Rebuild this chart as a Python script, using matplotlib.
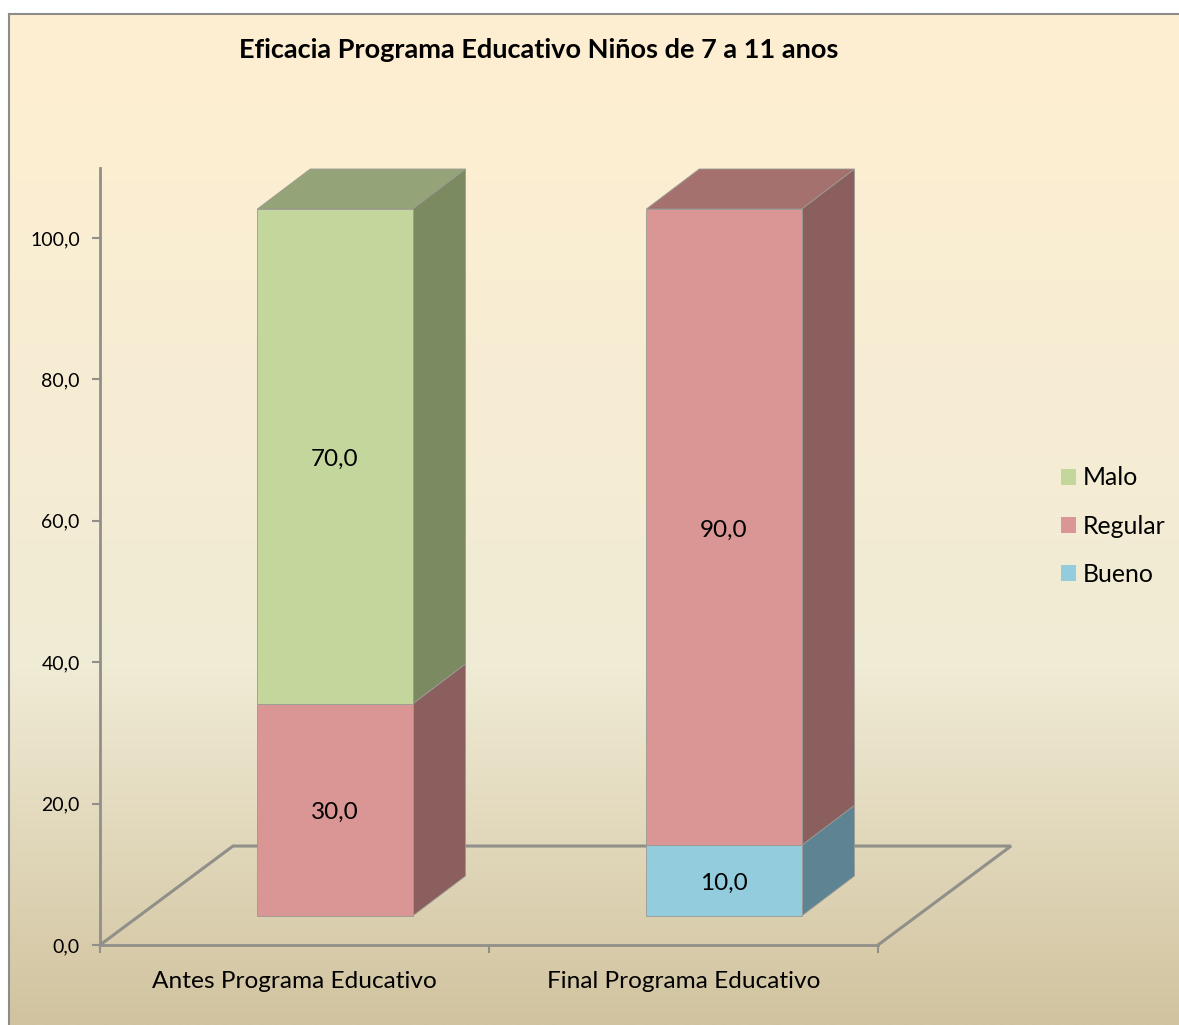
import numpy as np
import matplotlib
matplotlib.use('Agg')
import matplotlib.pyplot as plt
from matplotlib.colors import LinearSegmentedColormap
from matplotlib.patches import Patch, Polygon

# datos del grafico
categorias = ['Antes Programa Educativo', 'Final Programa Educativo']
series = ['Bueno', 'Regular', 'Malo']
bueno = [0.0, 10.0]
regular = [30.0, 90.0]
malo = [70.0, 0.0]
yticks = [0, 20, 40, 60, 80, 100]

# colores: frente, tapa, lateral
colores = {
    'Bueno': ('#93CDDD', '#6F98A5', '#5E8493'),
    'Regular': ('#D99694', '#A5716F', '#8A5F5E'),
    'Malo': ('#C3D69B', '#94A378', '#7B8A60'),
}
GRIS = '#918F8A'

W, H = 1179, 1025
plt.rcParams['font.family'] = ['Lato', 'DejaVu Sans']

fig = plt.figure(figsize=(W / 100, H / 100), dpi=100, facecolor='white')

# fondo con degradado
bg = fig.add_axes([9 / W, 0, 1 - 9 / W, 1 - 14 / H])
cmap = LinearSegmentedColormap.from_list(
    'pergamino', [(0, '#FFEFD1'), (0.648, '#F0EBD5'), (1, '#D1C39F')])
bg.imshow(np.linspace(0, 1, 512).reshape(-1, 1), aspect='auto', cmap=cmap)
bg.set_xticks([])
bg.set_yticks([])
for lado in ['right', 'bottom']:
    bg.spines[lado].set_visible(False)
for lado in ['left', 'top']:
    bg.spines[lado].set_color('#8C8C8C')
    bg.spines[lado].set_linewidth(1.5)

# ejes principales, y=0 en la base del piso
ax = fig.add_axes([100 / W, 1 - 945 / H, 778 / W, 777 / H])
ax.patch.set_alpha(0)
ax.set_xlim(-0.5, 1.5)
ax.set_ylim(0, 109.9)

for lado in ['top', 'right']:
    ax.spines[lado].set_visible(False)
for lado in ['left', 'bottom']:
    ax.spines[lado].set_color(GRIS)
    ax.spines[lado].set_linewidth(2.0)

ax.set_yticks(yticks)
ax.set_yticklabels([f'{v:.1f}'.replace('.', ',') for v in yticks], fontsize=14, color='black')
ax.set_xticks([-0.5, 0.5, 1.5])
ax.set_xticklabels([])
ax.tick_params(axis='both', color=GRIS, width=1.5, length=5.5)
ax.tick_params(axis='y', pad=9)
for i, cat in enumerate(categorias):
    ax.annotate(cat, (i, 0), xycoords='data', xytext=(0, -26), textcoords='offset points',
                ha='center', va='center', fontsize=17.6, color='black')

# piso en perspectiva
piso_dx, piso_dy = 0.342, 14.0
ax.plot([-0.5, -0.5 + piso_dx, 1.5 + piso_dx, 1.5], [0, piso_dy, piso_dy, 0],
        color=GRIS, lw=2.2, clip_on=False, zorder=2, solid_joinstyle='miter')


def dibujar_barra(x, inicio, valor, nombre):
    # cada tramo de la barra lleva frente, lateral y tapa
    ancho, dx, dy, base = 0.399, 0.136, 5.66, 4.1
    frente, tapa, lateral = colores[nombre]
    x0, x1 = x + 0.104 - ancho / 2, x + 0.104 + ancho / 2
    y0, y1 = base + inicio, base + inicio + valor
    borde = dict(edgecolor='#9A9A94', linewidth=0.6, clip_on=False, zorder=3)
    ax.add_patch(Polygon([(x1, y0), (x1 + dx, y0 + dy), (x1 + dx, y1 + dy), (x1, y1)],
                         facecolor=lateral, **borde))
    ax.add_patch(Polygon([(x0, y0), (x1, y0), (x1, y1), (x0, y1)], facecolor=frente, **borde))
    if inicio + valor >= 100:
        ax.add_patch(Polygon([(x0, y1), (x1, y1), (x1 + dx, y1 + dy), (x0 + dx, y1 + dy)],
                             facecolor=tapa, **borde))
    ax.annotate(f'{valor:.1f}'.replace('.', ','), ((x0 + x1) / 2, (y0 + y1) / 2),
                xytext=(0, -2), textcoords='offset points', ha='center', va='center',
                fontsize=17.5, color='black', zorder=4)


datos = {'Bueno': bueno, 'Regular': regular, 'Malo': malo}
for i in range(len(categorias)):
    acumulado = 0.0
    for nombre in series:
        valor = datos[nombre][i]
        if valor > 0:
            dibujar_barra(i, acumulado, valor, nombre)
            acumulado += valor

fig.text(539 / W, 1 - 50 / H, 'Eficacia Programa Educativo Niños de 7 a 11 anos',
         ha='center', va='center', fontsize=19.5, fontweight='bold', color='black')

handles = [Patch(facecolor=colores[n][0], edgecolor='none', label=n) for n in reversed(series)]
fig.legend(handles=handles, loc='center left', bbox_to_anchor=(1061 / W, 1 - 526 / H),
           frameon=False, fontsize=17.8, handlelength=0.61, handleheight=0.61,
           handletextpad=0.28, labelspacing=1.02, borderpad=0, borderaxespad=0)

fig.savefig('out.png', dpi=100, facecolor='white')
